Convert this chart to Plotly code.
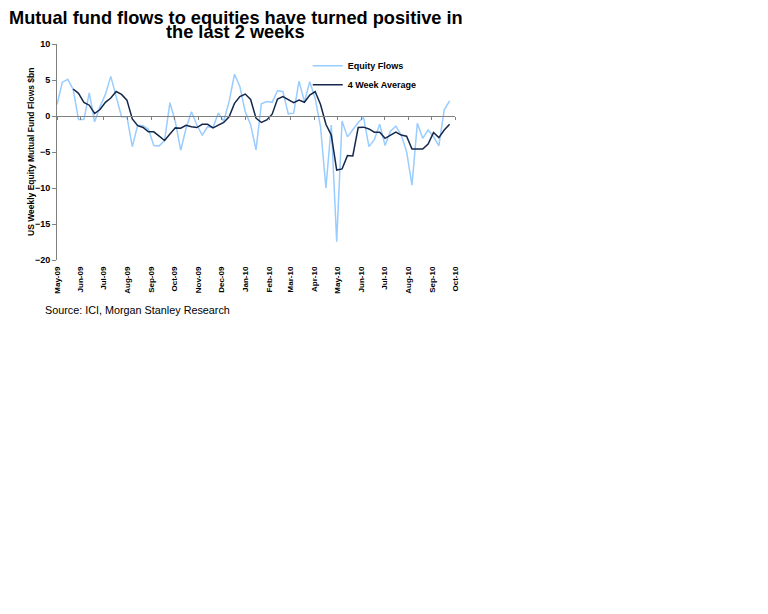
import pandas as pd
import plotly.graph_objects as go

# Weekly dates (category axis of the chart)
weeks = pd.date_range("2009-05-01", periods=74, freq="7D")

# US weekly equity mutual fund flows, $bn
equity_flows = [
    1.6, 4.7, 5.1, 3.7, -0.5, -0.5, 3.2, -0.8, 1.3, 3.0,
    5.5, 2.8, -0.1, -0.1, -4.25, -1.3, -1.35, -1.85, -4.1, -4.15,
    -3.4, 1.85, -0.8, -4.75, -1.7, 0.6, -1.25, -2.65, -1.5, -1.6,
    0.4, -0.7, 2.0, 5.8, 4.1, 0.6, -1.2, -4.7, 1.7, 2.0,
    1.9, 3.5, 3.4, 0.3, 0.4, 4.85, 2.0, 4.75, 2.45, -1.5,
    -10.0, -1.25, -17.45, -0.7, -2.9, -1.9, -0.9, -0.2, -4.25, -3.3,
    -1.15, -4.1, -2.1, -1.4, -2.65, -4.95, -9.6, -1.0, -3.1, -1.95,
    -2.85, -4.15, 0.85, 2.1,
]

# 4 week average, $bn
four_week_avg = [
    None, None, None, 3.75, 3.15, 1.9, 1.5, 0.35, 0.9, 1.9,
    2.5, 3.4, 3.0, 2.2, -0.4, -1.35, -1.6, -2.2, -2.2, -2.8,
    -3.4, -2.5, -1.65, -1.7, -1.3, -1.5, -1.6, -1.15, -1.15, -1.65,
    -1.25, -0.9, -0.1, 1.75, 2.7, 3.05, 2.3, -0.3, -0.9, -0.55,
    0.25, 2.35, 2.7, 2.3, 1.85, 2.2, 1.9, 2.9, 3.4, 1.6,
    -1.15, -2.65, -7.5, -7.35, -5.5, -5.55, -1.6, -1.55, -1.8, -2.25,
    -2.25, -3.1, -2.65, -2.25, -2.65, -2.8, -4.6, -4.6, -4.6, -3.9,
    -2.3, -3.0, -1.95, -1.15,
]

title_lines = ["Mutual fund flows to equities have turned positive in", "the last 2 weeks"]
y_title = "US Weekly Equity Mutual Fund Flows $bn"
source_text = "Source: ICI, Morgan Stanley Research"

FONT = "Liberation Sans, Arial, sans-serif"
AXIS_GREY = "#808080"

# page body has an 8px margin; plot area should sit at x 57..455, y 44..260
OFF = 8
L, T, PW, PH = 57 - OFF, 44 - OFF, 398, 216


def px(xp):
    return (xp - 57) / PW


def py(yp):
    return (260 - yp) / PH


fig = go.Figure()
fig.add_trace(go.Scatter(
    x=weeks, y=equity_flows, name="Equity Flows", mode="lines",
    line=dict(color="#99CCFF", width=1.5), xaxis="x", yaxis="y",
))
fig.add_trace(go.Scatter(
    x=weeks, y=four_week_avg, name="4 Week Average", mode="lines",
    line=dict(color="#14284B", width=1.5), xaxis="x2", yaxis="y",
))

tick_common = dict(
    type="date", range=["2009-05-01", "2010-10-01"],
    tick0="2009-05-01", dtick="M1", tickformat="%b-%y",
    showgrid=False, zeroline=False,
)

fig.update_layout(
    width=768, height=614,
    margin=dict(l=L, r=768 - L - PW, t=T, b=614 - T - PH),
    paper_bgcolor="white", plot_bgcolor="white",
    font=dict(family=FONT, color="black"),
    showlegend=True,
    legend=dict(
        x=0.63, y=0.967, xanchor="left", yanchor="top",
        bgcolor="rgba(0,0,0,0)",
        font=dict(family=FONT, size=9, color="black", weight="bold"),
    ),
    xaxis=dict(
        **tick_common,
        showline=False, ticks="", tickangle=-90, ticklabelstandoff=4,
        tickfont=dict(family=FONT, size=8, color="black", weight="bold"),
    ),
    xaxis2=dict(
        **tick_common,
        overlaying="x", matches="x", anchor="free", position=20 / 30,
        showline=True, linecolor=AXIS_GREY, linewidth=1,
        ticks="outside", ticklen=3, tickcolor=AXIS_GREY,
        showticklabels=False,
    ),
    yaxis=dict(
        range=[-20, 10], dtick=5, tick0=0,
        showgrid=False, zeroline=False,
        showline=True, linecolor=AXIS_GREY, linewidth=1,
        ticks="outside", ticklen=4, tickcolor=AXIS_GREY,
        tickfont=dict(family=FONT, size=9, color="black", weight="bold"),
    ),
    annotations=[
        dict(text=title_lines[0], xref="paper", yref="paper",
             x=px(236), y=py(17.5), xanchor="center", yanchor="middle",
             showarrow=False, font=dict(family=FONT, size=18.2, color="black", weight="bold")),
        dict(text=title_lines[1], xref="paper", yref="paper",
             x=px(235), y=py(32), xanchor="center", yanchor="middle",
             showarrow=False, font=dict(family=FONT, size=18.2, color="black", weight="bold")),
        dict(text=y_title, xref="paper", yref="paper",
             x=px(31), y=0.5, xanchor="center", yanchor="middle",
             textangle=-90, showarrow=False,
             font=dict(family=FONT, size=8.5, color="black", weight="bold")),
        dict(text=source_text, xref="paper", yref="paper",
             x=px(43), y=py(310), xanchor="left", yanchor="middle",
             showarrow=False, font=dict(family=FONT, size=10.8, color="black")),
    ],
)

fig.write_html("out.html")
